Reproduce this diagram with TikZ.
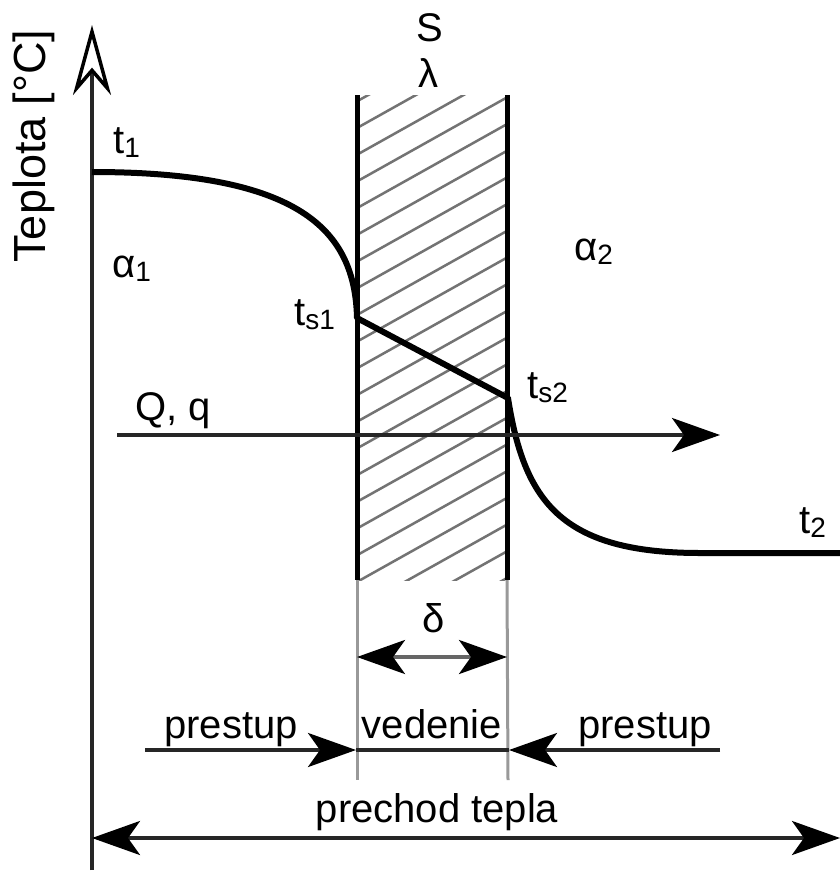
\documentclass[tikz,border=0pt]{standalone}
\usepackage{fontspec}
\setmainfont{Liberation Sans}
\usetikzlibrary{arrows.meta}
\newcommand\lblsize{\fontsize{40}{48}\selectfont}
\newcommand\subs[1]{\raisebox{-0.1em}{\fontsize{28}{30}\selectfont #1}}
\begin{document}
\begin{tikzpicture}[x=1pt,y=-1pt,
  lbl/.style={inner sep=0pt,font=\lblsize,text=black},
  arrowtip/.tip={Stealth[length=48pt,width=34pt,inset=12pt,color=black]},
  axisline/.style={line width=3.5pt,draw=black!85},
  wallline/.style={line width=5pt,draw=black},
  extline/.style={line width=3pt,draw=black!40},
  hatchline/.style={line width=2.5pt,draw=black!55},
  curveline/.style={line width=6pt,draw=black},
  flowline/.style={line width=3.5pt,draw=black!85}]
\useasboundingbox (0,0) rectangle (840,875);
\fill[white] (0,0) rectangle (840,875);

% hatching
\begin{scope}
\clip (357,95) rectangle (507,580);
\foreach \k in {-4,...,22}{
  \draw[hatchline] (357,128+26.7*\k) -- (507,128+26.7*\k-84);
}
\end{scope}

% coordinates
\coordinate (axb) at (92,870);
\coordinate (axt) at (92,25);
\coordinate (wlt) at (357,95);
\coordinate (wlb) at (357,580);
\coordinate (wrt) at (507,95);
\coordinate (wrb) at (507,580);
\coordinate (elb) at (357,780);
\coordinate (erb) at (508,780);
\coordinate (c0) at (92,172);
\coordinate (ts1) at (357,318);
\coordinate (ts2) at (508,398);
\coordinate (c3) at (700,553);
\coordinate (c4) at (840,553);
\coordinate (qa) at (117,435);
\coordinate (qb) at (720,435);
\coordinate (da) at (357,657);
\coordinate (db) at (507,657);
\coordinate (pl) at (145,750);
\coordinate (pm1) at (356,750);
\coordinate (pm2) at (509,750);
\coordinate (pr) at (720,750);
\coordinate (ba) at (92,838);
\coordinate (bb) at (840,838);

% walls
\draw[extline] (wlb) -- (elb);
\draw[extline] (wrb) -- (erb);
\draw[wallline] (wlt) -- (wlb);
\draw[wallline] (wrt) -- (wrb);

% axis
\draw[axisline,-{Stealth[open,length=70pt,width=38pt,inset=22pt,color=black]}] (axb) -- (axt);

% temperature curve
\draw[curveline,line join=round] (c0) .. controls (300,172) and (355,230) .. (ts1)
  -- (ts2) .. controls (524,500) and (560,553) .. (c3) -- (c4);

% heat flow arrow
\draw[flowline,-{arrowtip}] (qa) -- (qb);

% delta arrow
\draw[flowline,draw=black!60,{arrowtip}-{arrowtip}] (da) -- (db);

% prestup / vedenie arrows
\draw[flowline,-{arrowtip}] (pl) -- (pm1);
\draw[flowline] (pm1) -- (pm2);
\draw[flowline,-{arrowtip}] (pr) -- (pm2);

% bottom arrow
\draw[flowline,{arrowtip}-{arrowtip}] (ba) -- (bb);

% labels
\node[lbl,rotate=90,font=\fontsize{45}{50}\selectfont] (ylab) at (34,146) {Teplota [°C]};
\node[lbl,anchor=base west] (t1) at (113,153) {t\subs{1}};
\node[lbl,anchor=base west] (a1) at (112,277) {α\subs{1}};
\node[lbl,anchor=base west] (lts1) at (294,325) {t\subs{s1}};
\node[lbl,anchor=base west] (lts2) at (527,398) {t\subs{s2}};
\node[lbl,anchor=base west] (a2) at (574,260) {α\subs{2}};
\node[lbl,anchor=base west] (t2) at (799,533) {t\subs{2}};
\node[lbl,anchor=base] (S) at (430,42) {S};
\node[lbl,anchor=base] (lam) at (428,88) {λ};
\node[lbl,anchor=base west] (Qq) at (135,420) {Q, q};
\node[lbl,anchor=base] (del) at (434,632) {δ};
\node[lbl,anchor=base] (pre1) at (231,738) {prestup};
\node[lbl,anchor=base] (ved) at (432,738) {vedenie};
\node[lbl,anchor=base] (pre2) at (645,738) {prestup};
\node[lbl,anchor=base] (pt) at (437,822) {prechod tepla};
\end{tikzpicture}
\end{document}
